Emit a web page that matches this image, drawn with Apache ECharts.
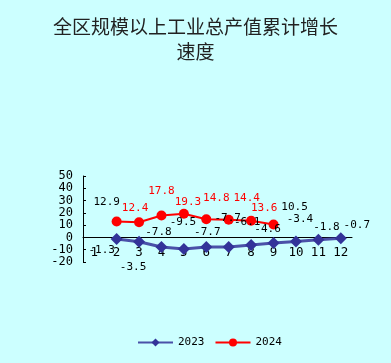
<!DOCTYPE html>
<html>
<head>
<meta charset="utf-8">
<script src="https://cdn.jsdelivr.net/npm/echarts@6/dist/echarts.min.js"></script>
<style>
html,body{margin:0;padding:0;background:#CCFFFF;}
#c{width:391px;height:363px;}
</style>
</head>
<body>
<div id="c"></div>
<script>
// ---- data ----
var titleText = '全区规模以上工业总产值累计增长\n速度';
var categories = ['1','2','3','4','5','6','7','8','9','10','11','12'];
var seriesNames = ['2023','2024'];
var values2023 = [null, -1.3, -3.5, -7.8, -9.5, -7.7, -7.7, -6.1, -4.6, -3.4, -1.8, -0.7];
var values2024 = [null, 12.9, 12.4, 17.8, 19.3, 14.8, 14.4, 13.6, 10.5, null, null, null];
var yTicks = { min: -20, max: 50, interval: 10 };

// ---- label placement / styling (not data) ----
var labelOffsets2023 = [null, [-15,11], [-6,25], [-3,-15], [-1,-27], [1,-15], [-1,-29], [-4,-23], [-6,-14], [4,-22], [8,-12], [16,-13]];
var labelOffsets2024 = [null, [-10,-19], [-4,-14], [0,-24], [4,-12], [10,-21], [18,-22], [13,-13], [21,-17], null, null, null];
var labelColors2024 = [null, '#000', '#FF0000', '#FF0000', '#FF0000', '#FF0000', '#FF0000', '#FF0000', '#000', null, null, null];

function build(values, offsets, colors, defColor) {
  return values.map(function (v, i) {
    if (v === null) return null;
    return {
      value: v,
      label: {
        show: true,
        position: 'inside',
        offset: offsets[i],
        color: colors ? colors[i] : defColor
      }
    };
  });
}

var gridTop = 176, gridBottom = 101, chartH = 363;
var plotH = chartH - gridTop - gridBottom;
// shift the category axis up so that it sits on the zero line
var zeroShift = -plotH * (0 - yTicks.min) / (yTicks.max - yTicks.min);

var monoFont = 'DejaVu Sans Mono';

var chart = echarts.init(document.getElementById('c'), null, { renderer: 'canvas' });
chart.setOption({
  backgroundColor: '#CCFFFF',
  animation: false,
  title: {
    text: titleText,
    left: 'center',
    top: 9,
    textStyle: { fontFamily: 'Noto Sans CJK SC', fontSize: 19, fontWeight: 'normal', color: '#222', lineHeight: 25 }
  },
  legend: {
    data: seriesNames,
    bottom: 10,
    left: 132,
    itemWidth: 35,
    itemHeight: 10,
    itemGap: 10,
    textStyle: { fontFamily: monoFont, fontSize: 11, color: '#000' }
  },
  grid: { left: 83, right: 39, top: gridTop, bottom: gridBottom },
  xAxis: {
    type: 'category',
    data: categories,
    boundaryGap: true,
    position: 'bottom',
    offset: zeroShift,
    axisLine: { onZero: false, lineStyle: { color: '#000', width: 1 } },
    axisTick: { inside: true, length: 4, lineStyle: { color: '#000' } },
    axisLabel: { margin: 9, color: '#000', fontFamily: monoFont, fontSize: 12.5, interval: 0 },
    splitLine: { show: false }
  },
  yAxis: {
    type: 'value',
    min: yTicks.min,
    max: yTicks.max,
    interval: yTicks.interval,
    axisLine: { show: true, lineStyle: { color: '#000', width: 1 } },
    axisTick: { show: true, inside: true, length: 3, lineStyle: { color: '#000' } },
    axisLabel: { margin: 10, color: '#000', fontFamily: monoFont, fontSize: 12, showMinLabel: true, showMaxLabel: true },
    splitLine: { show: false }
  },
  series: [
    {
      name: seriesNames[0],
      type: 'line',
      data: build(values2023, labelOffsets2023, null, '#000'),
      symbol: 'diamond',
      symbolSize: 12,
      itemStyle: { color: '#333399' },
      lineStyle: { color: '#333399', width: 3, opacity: 0.85 },
      label: { show: true, fontFamily: monoFont, fontSize: 11, formatter: function (p) { return p.value.toFixed(1); } },
      z: 3
    },
    {
      name: seriesNames[1],
      type: 'line',
      data: build(values2024, labelOffsets2024, labelColors2024, '#FF0000'),
      symbol: 'circle',
      symbolSize: 10,
      itemStyle: { color: '#FF0000' },
      lineStyle: { color: '#FF0000', width: 2 },
      label: { show: true, fontFamily: monoFont, fontSize: 11, formatter: function (p) { return p.value.toFixed(1); } },
      z: 2
    }
  ]
});
</script>
</body>
</html>
